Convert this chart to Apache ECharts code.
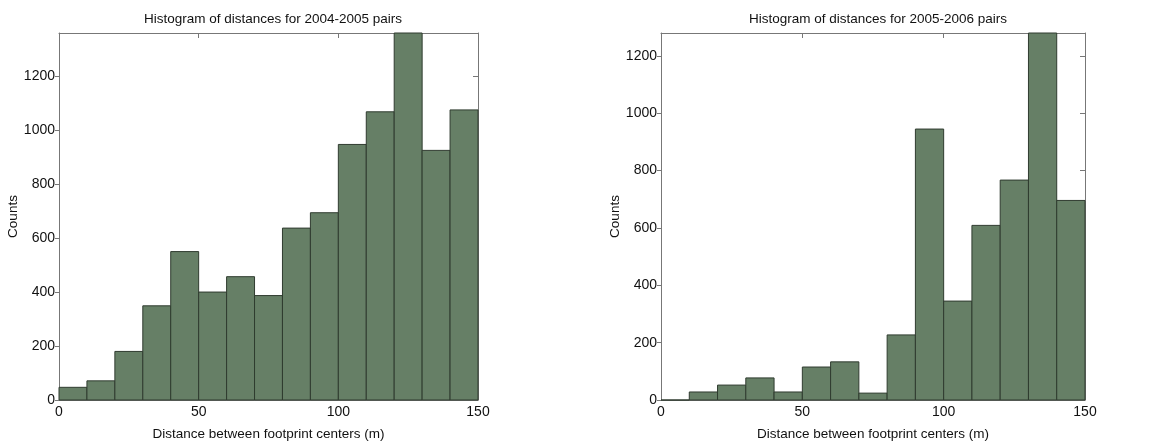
<!DOCTYPE html>
<html>
<head>
<meta charset="utf-8">
<script src="https://cdn.jsdelivr.net/npm/echarts@6/dist/echarts.min.js"></script>
<style>
html,body{margin:0;padding:0;background:#fff;}
#chart{width:1153px;height:446px;}
</style>
</head>
<body>
<div id="chart"></div>
<script>
// Bin edges (m)
var binEdges = [0, 10, 20, 30, 40, 50, 60, 70, 80, 90, 100, 110, 120, 130, 140, 150];
// Counts per bin
var counts2004_2005 = [47, 71, 180, 349, 550, 400, 457, 387, 637, 694, 947, 1068, 1360, 925, 1075];
var counts2005_2006 = [0, 28, 52, 77, 28, 115, 133, 24, 227, 945, 345, 609, 767, 1280, 696];
var titles = ['Histogram of distances for 2004-2005 pairs', 'Histogram of distances for 2005-2006 pairs'];
var xLabel = 'Distance between footprint centers (m)';
var yLabel = 'Counts';
var yMaxes = [1360, 1280];

var FONT = '"Liberation Sans", Arial, Helvetica, sans-serif';
var AXC = '#777777';

function toBins(counts) {
  var out = [];
  for (var i = 0; i < counts.length; i++) out.push([binEdges[i], binEdges[i + 1], counts[i]]);
  return out;
}

function renderBar(params, api) {
  var x0 = api.value(0), x1 = api.value(1), y = api.value(2);
  var p0 = api.coord([x0, y]);
  var p1 = api.coord([x1, 0]);
  return {
    type: 'rect',
    shape: { x: p0[0], y: p0[1], width: p1[0] - p0[0], height: p1[1] - p0[1] },
    style: { fill: '#667f66', stroke: '#2f3b2f', lineWidth: 1 }
  };
}

function plain(v) { return String(v); }

var grids = [
  { left: 59, right: 675, top: 33, bottom: 46 },
  { left: 661, right: 68, top: 33, bottom: 46 }
];

var xAxes = [], yAxes = [], series = [], titleArr = [];
var allCounts = [counts2004_2005, counts2005_2006];
var centers = [268, 873];

for (var g = 0; g < 2; g++) {
  titleArr.push({
    text: titles[g], left: centers[g], top: 7, textAlign: 'center',
    textStyle: { fontFamily: FONT, fontSize: 13.5, fontWeight: 'normal', color: '#111' }
  });
  xAxes.push({
    gridIndex: g, type: 'value', position: 'bottom', min: 0, max: 150, interval: 50,
    name: xLabel, nameLocation: 'middle', nameGap: 27,
    nameTextStyle: { fontFamily: FONT, fontSize: 13.5, color: '#111' },
    axisLine: { show: true, onZero: false, lineStyle: { color: AXC, width: 1 } },
    axisTick: { show: true, inside: true, length: 5, lineStyle: { color: AXC } },
    axisLabel: { fontFamily: FONT, fontSize: 14, color: '#111', margin: 5, formatter: plain },
    splitLine: { show: false }
  });
  xAxes.push({
    gridIndex: g, type: 'value', position: 'top', min: 0, max: 150, interval: 50,
    axisLine: { show: true, onZero: false, lineStyle: { color: AXC, width: 1 } },
    axisTick: { show: true, inside: true, length: 5, lineStyle: { color: AXC } },
    axisLabel: { show: false },
    splitLine: { show: false }
  });
  yAxes.push({
    gridIndex: g, type: 'value', position: 'left', min: 0, max: yMaxes[g], interval: 200,
    name: yLabel, nameLocation: 'middle', nameGap: 39, nameRotate: 90,
    nameTextStyle: { fontFamily: FONT, fontSize: 13.5, color: '#111' },
    axisLine: { show: true, onZero: false, lineStyle: { color: AXC, width: 1 } },
    axisTick: { show: true, inside: false, length: 4, lineStyle: { color: AXC } },
    axisLabel: { fontFamily: FONT, fontSize: 14, color: '#111', margin: 4, showMaxLabel: false, formatter: plain },
    splitLine: { show: false }
  });
  yAxes.push({
    gridIndex: g, type: 'value', position: 'right', min: 0, max: yMaxes[g], interval: 200,
    axisLine: { show: true, onZero: false, lineStyle: { color: AXC, width: 1 } },
    axisTick: { show: true, inside: true, length: 5, lineStyle: { color: AXC } },
    axisLabel: { show: false },
    splitLine: { show: false }
  });
  series.push({
    type: 'custom', xAxisIndex: g * 2, yAxisIndex: g * 2,
    renderItem: renderBar, data: toBins(allCounts[g]),
    encode: { x: [0, 1], y: 2 }, clip: false, z: 2
  });
}

var chart = echarts.init(document.getElementById('chart'), null, { renderer: 'canvas' });
chart.setOption({
  backgroundColor: '#ffffff',
  animation: false,
  title: titleArr,
  grid: grids,
  xAxis: xAxes,
  yAxis: yAxes,
  series: series
});
</script>
</body>
</html>
